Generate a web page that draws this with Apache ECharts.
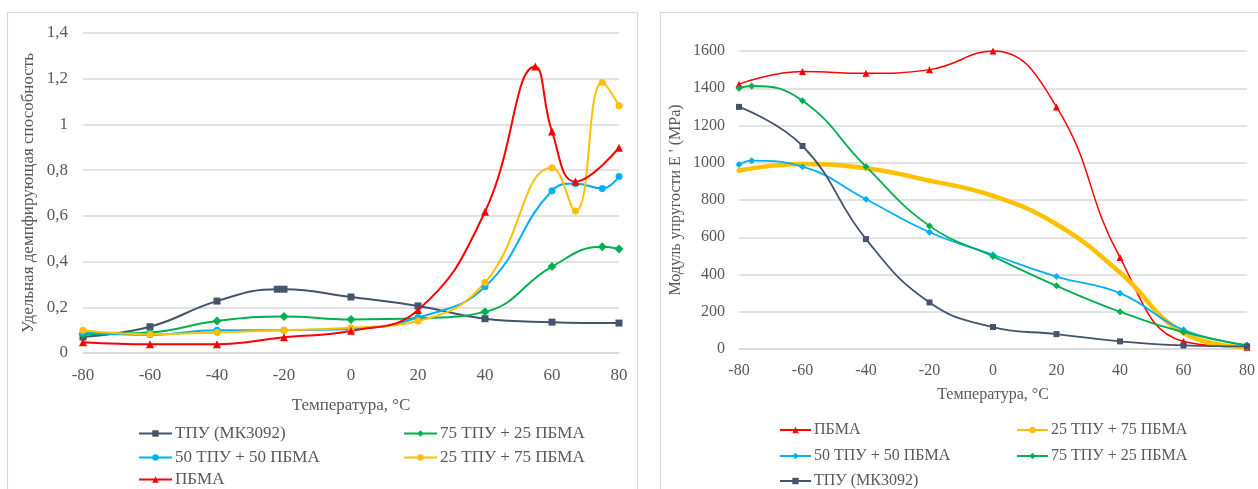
<!DOCTYPE html>
<html>
<head>
<meta charset="utf-8">
<script src="https://cdn.jsdelivr.net/npm/echarts@6/dist/echarts.min.js"></script>
<style>
html,body{margin:0;padding:0;background:#fff;}
#c{width:1258px;height:489px;}
</style>
</head>
<body>
<div id="c"></div>
<script>
// ---------- Left chart: Удельная демпфирующая способность ----------
const L_tpuX = [-80, -60, -40, -22, -20, 0, 20, 40, 60, 80];
const L_tpuY = [0.07, 0.115, 0.227, 0.279, 0.279, 0.245, 0.206, 0.15, 0.135, 0.131];
const L_g75X = [-80, -60, -40, -20, 0, 20, 40, 60, 75, 80];
const L_g75Y = [0.082, 0.09, 0.14, 0.16, 0.147, 0.152, 0.18, 0.378, 0.465, 0.455];
const L_b50X = [-80, -60, -40, -20, 0, 20, 40, 60, 67, 75, 80];
const L_b50Y = [0.09, 0.08, 0.1, 0.1, 0.105, 0.155, 0.29, 0.71, 0.742, 0.72, 0.772];
const L_y25X = [-80, -60, -40, -20, 0, 20, 40, 60, 67, 75, 80];
const L_y25Y = [0.1, 0.082, 0.09, 0.1, 0.11, 0.14, 0.308, 0.811, 0.621, 1.183, 1.082];
const L_pbmaX = [-80, -60, -40, -20, 0, 20, 40, 55, 60, 67, 80];
const L_pbmaY = [0.047, 0.038, 0.038, 0.069, 0.097, 0.188, 0.618, 1.253, 0.969, 0.75, 0.898];

// ---------- Right chart: Модуль упругости ----------
const R_pbmaX = [-80, -60, -40, -20, 0, 20, 40, 60, 80];
const R_pbmaY = [1422, 1490, 1480, 1500, 1600, 1300, 491, 40, 10];
const R_y25X = [-80, -60, -40, -20, 0, 20, 40, 60, 80];
const R_y25Y = [958, 993, 970, 904, 822, 670, 411, 86, 10];
const R_b50X = [-80, -76, -60, -40, -20, 0, 20, 40, 60, 80];
const R_b50Y = [990, 1011, 979, 804, 627, 506, 389, 300, 103, 20];
const R_g75X = [-80, -76, -60, -40, -20, 0, 20, 40, 60, 80];
const R_g75Y = [1400, 1412, 1333, 979, 661, 497, 339, 200, 91, 20];
const R_tpuX = [-80, -60, -40, -20, 0, 20, 40, 60, 80];
const R_tpuY = [1300, 1090, 590, 250, 118, 80, 41, 19, 14];

const names = {
  tpu: 'ТПУ (МК3092)',
  g75: '75 ТПУ + 25 ПБМА',
  b50: '50 ТПУ + 50 ПБМА',
  y25: '25 ТПУ + 75 ПБМА',
  pbma: 'ПБМА'
};
const colors = {tpu:'#44546A', g75:'#00B050', b50:'#00B0F0', y25:'#FFC000', pbma:'#FF0000'};

const pairs = (xs, ys) => xs.map((x, i) => [x, ys[i]]);
const FONT = '"Liberation Serif", "Times New Roman", serif';
const TXT = '#595959';
const GRIDC = '#D9D9D9';
const RS = ' '; // suffix to keep right-chart legend separate

function ser(name, key, xs, ys, idx, sym, symSize, lw) {
  return {
    name: name, type: 'line', xAxisIndex: idx, yAxisIndex: idx,
    data: pairs(xs, ys), smooth: 0.45, clip: false,
    symbol: sym, symbolSize: symSize, showSymbol: true,
    lineStyle: {color: colors[key], width: lw},
    itemStyle: {color: colors[key]},
    emphasis: {disabled: true}, animation: false
  };
}

function leg(name, left, centerY, size, w) {
  return {
    left: left, top: centerY - Math.round(size * 0.45), itemWidth: w, itemHeight: 8, itemGap: 0,
    padding: 0, selectedMode: false,
    textStyle: {fontFamily: FONT, fontSize: size, color: TXT, padding: [0, 0, 0, -2]},
    formatter: n => n.trim(),
    data: [name]
  };
}

const chart = echarts.init(document.getElementById('c'), null, {renderer: 'canvas'});

const xAx = (idx, size, gap) => ({
  type: 'value', gridIndex: idx, min: -80, max: 80, interval: 20,
  name: 'Температура, °С', nameLocation: 'middle', nameGap: gap,
  nameTextStyle: {fontFamily: FONT, fontSize: size, color: TXT},
  axisLine: {show: true, lineStyle: {color: GRIDC, width: 1.5}},
  axisTick: {show: false}, splitLine: {show: false},
  axisLabel: {fontFamily: FONT, fontSize: size, color: TXT, margin: 14}
});

const option = {
  backgroundColor: '#fff',
  animation: false,
  graphic: [
    {type: 'rect', shape: {x: 7.5, y: 12.5, width: 630, height: 520}, style: {fill: 'none', stroke: GRIDC, lineWidth: 1.2}, silent: true},
    {type: 'rect', shape: {x: 660.5, y: 12.5, width: 700, height: 520}, style: {fill: 'none', stroke: GRIDC, lineWidth: 1.2}, silent: true}
  ],
  grid: [
    {left: 83, top: 33, width: 536, height: 320},
    {left: 739, top: 51, width: 511, height: 298}
  ],
  xAxis: [xAx(0, 17, 44), xAx(1, 16, 38)],
  yAxis: [
    {
      type: 'value', gridIndex: 0, min: 0, max: 1.4, interval: 0.2,
      name: 'Удельная демпфирующая способность', nameLocation: 'middle', nameGap: 46,
      nameTextStyle: {fontFamily: FONT, fontSize: 17, color: TXT},
      axisLine: {show: false}, axisTick: {show: false},
      splitLine: {lineStyle: {color: GRIDC, width: 1.5}},
      axisLabel: {fontFamily: FONT, fontSize: 17, color: TXT, margin: 15,
        formatter: v => String(+v.toFixed(1)).replace('.', ',')}
    },
    {
      type: 'value', gridIndex: 1, min: 0, max: 1600, interval: 200,
      name: "Модуль упругости E ' (MPa)", nameLocation: 'middle', nameGap: 55,
      nameTextStyle: {fontFamily: FONT, fontSize: 16, color: TXT},
      axisLine: {show: false}, axisTick: {show: false},
      splitLine: {lineStyle: {color: GRIDC, width: 1.5}},
      axisLabel: {fontFamily: FONT, fontSize: 16, color: TXT, margin: 14,
        formatter: v => String(v)}
    }
  ],
  legend: [
    leg(names.tpu, 138, 433, 17, 33),
    leg(names.b50, 138, 457, 17, 33),
    leg(names.pbma, 138, 479, 17, 33),
    leg(names.g75, 403, 433, 17, 33),
    leg(names.y25, 403, 457, 17, 33),
    leg(names.pbma + RS, 779, 429, 16, 31),
    leg(names.b50 + RS, 779, 455, 16, 31),
    leg(names.tpu + RS, 779, 480, 16, 31),
    leg(names.y25 + RS, 1016, 429, 16, 31),
    leg(names.g75 + RS, 1016, 455, 16, 31)
  ],
  series: [
    ser(names.tpu, 'tpu', L_tpuX, L_tpuY, 0, 'rect', 7, 2),
    ser(names.g75, 'g75', L_g75X, L_g75Y, 0, 'diamond', 9, 2),
    ser(names.b50, 'b50', L_b50X, L_b50Y, 0, 'circle', 7, 2),
    ser(names.y25, 'y25', L_y25X, L_y25Y, 0, 'circle', 7, 2),
    ser(names.pbma, 'pbma', L_pbmaX, L_pbmaY, 0, 'triangle', 8, 2),

    ser(names.pbma + RS, 'pbma', R_pbmaX, R_pbmaY, 1, 'triangle', 7, 1.5),
    ser(names.y25 + RS, 'y25', R_y25X, R_y25Y, 1, 'circle', 5, 4.5),
    ser(names.b50 + RS, 'b50', R_b50X, R_b50Y, 1, 'diamond', 7, 1.8),
    ser(names.g75 + RS, 'g75', R_g75X, R_g75Y, 1, 'diamond', 7, 1.8),
    ser(names.tpu + RS, 'tpu', R_tpuX, R_tpuY, 1, 'rect', 6, 1.8)
  ]
};
chart.setOption(option);
</script>
</body>
</html>
